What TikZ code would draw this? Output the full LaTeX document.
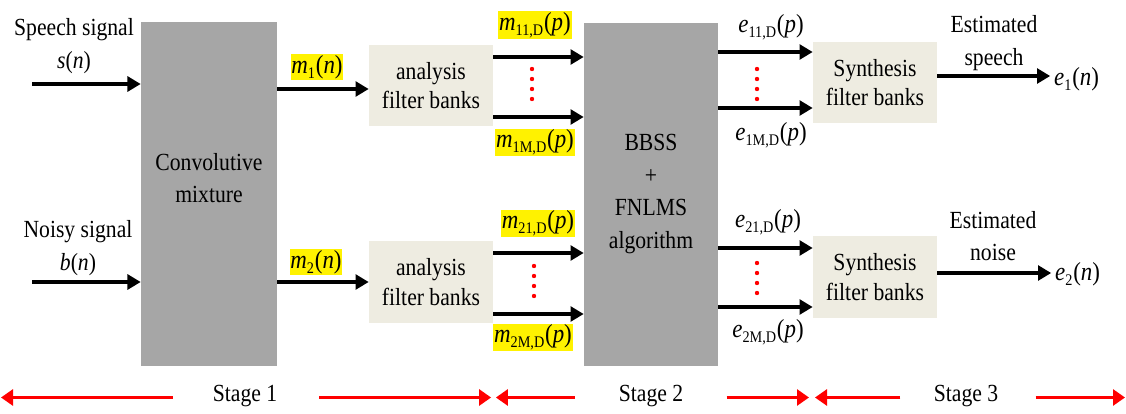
\documentclass[tikz,border=0pt]{standalone}
\usepackage{fontspec}
\setmainfont{Liberation Serif}[FakeStretch=0.88]
\usetikzlibrary{arrows.meta}

\definecolor{mixgray}{HTML}{A6A6A6}
\definecolor{bankbeige}{HTML}{EEECE1}

% signal name with its index and argument, e.g. m_{11,D}(p)
\newcommand{\sgl}[3]{\textit{#1}\raisebox{-0.4ex}{\fontsize{11.5}{12}\selectfont #2}\kern0.6pt(\textit{#3})}

\tikzset{
	bigbox/.style={fill=mixgray, inner sep=0pt},
	bankbox/.style={fill=bankbeige, align=center, inner sep=0pt, minimum width=3.1cm, minimum height=2.03cm, font=\fontsize{17.5}{21}\selectfont},
	txt/.style={align=center, inner sep=0pt, font=\fontsize{17.5}{23}\selectfont},
	sig/.style={inner sep=0.6pt, font=\fontsize{18.5}{20}\selectfont},
	hl/.style={sig, fill=yellow},
	sigarrow/.style={line width=2.6pt, -{Triangle[length=0.33cm,width=0.37cm]}},
	stagearrow/.style={red, line width=2pt, -{Triangle[length=0.3cm,width=0.4cm]}},
}

\begin{document}
\begin{tikzpicture}[x=0.025cm, y=-0.025cm]
	\useasboundingbox (0,0) rectangle (1126,414);

	% main blocks
	\node[bigbox, minimum width=3.4cm, minimum height=8.6cm] (mix) at (209,194) {};
	\node[txt] (mixtxt) at (209,178) {Convolutive\\mixture};
	\node[bigbox, minimum width=3.35cm, minimum height=8.58cm] (bbss) at (651,194.5) {};
	\node[txt] (bbsstxt) at (651,194) {BBSS\\+\\FNLMS\\algorithm};

	\node[bankbox] (afb1) at (431,85.5) {analysis\\filter banks};
	\node[bankbox] (afb2) at (431,282) {analysis\\filter banks};
	\node[bankbox] (syn1) at (875,82.5) {Synthesis\\filter banks};
	\node[bankbox] (syn2) at (875,277) {Synthesis\\filter banks};

	% inputs
	\node[txt] (spt) at (74,46) {Speech signal\\\textit{s}(\textit{n})};
	\node[txt] (nst) at (78,248) {Noisy signal\\\textit{b}(\textit{n})};
	\coordinate (sin) at (32,84);
	\coordinate (bin) at (32,282);
	\draw[sigarrow] (sin) -- (sin -| mix.west);
	\draw[sigarrow] (bin) -- (bin -| mix.west);

	% mixtures into the analysis banks
	\coordinate (m1s) at (277,89);
	\coordinate (m2s) at (277,282);
	\draw[sigarrow] (m1s) -- (m1s -| afb1.west);
	\draw[sigarrow] (m2s) -- (m2s -| afb2.west);
	\node[hl] (m1) at (317,67) {\sgl{m}{1}{n}};
	\node[hl] (m2) at (316,262) {\sgl{m}{2}{n}};

	% subbands into BBSS
	\coordinate (a1t) at (493,57);
	\coordinate (a1b) at (493,117);
	\coordinate (a2t) at (493,253);
	\coordinate (a2b) at (493,314);
	\foreach \c in {a1t,a1b,a2t,a2b}
		\draw[sigarrow] (\c) -- (\c -| bbss.west);
	\node[hl] (m11) at (535,25) {\sgl{m}{11,D}{p}};
	\node[hl] (m1M) at (535,142) {\sgl{m}{1M,D}{p}};
	\node[hl] (m21) at (538,223) {\sgl{m}{21,D}{p}};
	\node[hl] (m2M) at (533,337) {\sgl{m}{2M,D}{p}};

	% subbands out of BBSS
	\coordinate (b1t) at (718,52);
	\coordinate (b1b) at (718,108);
	\coordinate (b2t) at (718,248);
	\coordinate (b2b) at (718,307);
	\draw[sigarrow] (b1t) -- (b1t -| syn1.west);
	\draw[sigarrow] (b1b) -- (b1b -| syn1.west);
	\draw[sigarrow] (b2t) -- (b2t -| syn2.west);
	\draw[sigarrow] (b2b) -- (b2b -| syn2.west);
	\node[sig] (e11) at (771,27) {\sgl{e}{11,D}{p}};
	\node[sig] (e1M) at (771,135) {\sgl{e}{1M,D}{p}};
	\node[sig] (e21) at (768,222) {\sgl{e}{21,D}{p}};
	\node[sig] (e2M) at (768,332) {\sgl{e}{2M,D}{p}};

	% red dots between the subbands
	\foreach \dx/\dy in {532/69, 534/266, 757/69, 757/263}
		\foreach \k in {0,...,3}
			\fill[red] (\dx,\dy+\k*10) circle (0.055cm);

	% outputs
	\node[txt] (est1) at (994,43) {Estimated\\speech};
	\node[txt] (est2) at (993,236) {Estimated\\noise};
	\node[sig, anchor=west] (e1) at (1053,79) {\sgl{e}{1}{n}};
	\node[sig, anchor=west] (e2) at (1054,274) {\sgl{e}{2}{n}};
	\coordinate (s1o) at (937,76);
	\coordinate (s2o) at (937,273);
	\draw[sigarrow] (s1o) -- ([xshift=-0.07cm]s1o -| e1.west);
	\draw[sigarrow] (s2o) -- ([xshift=-0.07cm]s2o -| e2.west);

	% stages
	\node[txt] (st1) at (245,396) {Stage 1};
	\node[txt] (st2) at (651,396) {Stage 2};
	\node[txt] (st3) at (966,396) {Stage 3};
	\coordinate (edgeL) at (1,397.5);
	\coordinate (edgeR) at (1125,397.5);
	\coordinate (b12) at (493.5,397.5);
	\coordinate (b23) at (812,397.5);
	\draw[stagearrow] ([xshift=-1cm]st1.west |- edgeL) -- (edgeL);
	\draw[stagearrow] ([xshift=1.05cm]st1.east |- b12) -- ([xshift=-0.06cm]b12);
	\draw[stagearrow] ([xshift=-1.1cm]st2.west |- b12) -- ([xshift=0.06cm]b12);
	\draw[stagearrow] ([xshift=1.08cm]st2.east |- b23) -- ([xshift=-0.075cm]b23);
	\draw[stagearrow] ([xshift=-0.83cm]st3.west |- b23) -- ([xshift=0.075cm]b23);
	\draw[stagearrow] ([xshift=0.93cm]st3.east |- edgeR) -- (edgeR);
\end{tikzpicture}
\end{document}
